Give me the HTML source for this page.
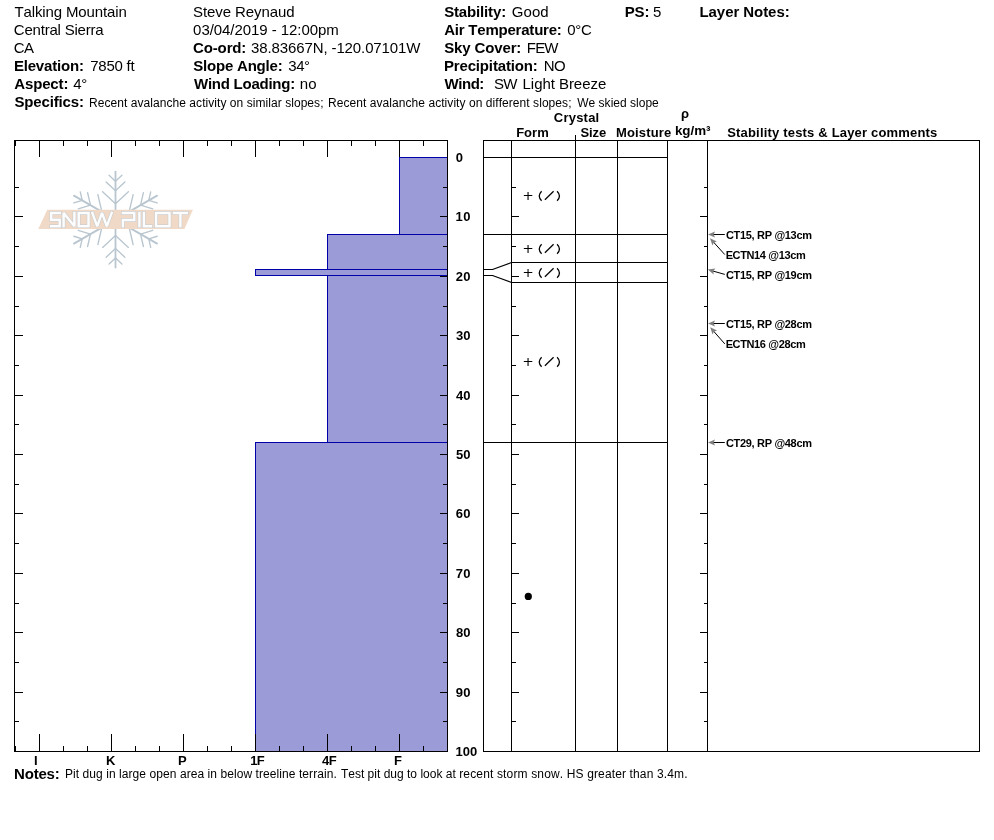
<!DOCTYPE html>
<html><head><meta charset="utf-8"><title>Snow Pit Profile</title>
<style>
html,body{margin:0;padding:0;background:#fff;}
body{width:994px;height:840px;overflow:hidden;position:relative;font-family:"Liberation Sans",sans-serif;color:#000;}
#w{position:absolute;left:0;top:0;width:994px;height:840px;will-change:transform;font-kerning:none;}
svg{position:absolute;left:0;top:0;}
.t{position:absolute;white-space:pre;line-height:1;font-size:15px;}
.b{font-weight:bold;}
text{font-family:"Liberation Sans",sans-serif;fill:#000;font-kerning:none;}
</style></head><body><div id="w">
<svg width="994" height="840" viewBox="0 0 994 840">
<g stroke="#b9c6cf" stroke-width="1.35" stroke-linecap="round" fill="none">
<path d="M115.50 219.60 L115.50 171.60" stroke-width="1.8"/>
<path d="M115.50 181.20 L121.94 175.20"/>
<path d="M115.50 181.20 L109.06 175.20"/>
<path d="M115.50 190.70 L124.86 181.97"/>
<path d="M115.50 190.70 L106.14 181.97"/>
<path d="M115.50 203.80 L128.37 191.80"/>
<path d="M115.50 203.80 L102.63 191.80"/>
<path d="M115.50 219.60 L73.93 195.60" stroke-width="1.8"/>
<path d="M82.24 200.40 L80.27 191.83"/>
<path d="M82.24 200.40 L73.83 202.97"/>
<path d="M90.47 205.15 L87.59 192.68"/>
<path d="M90.47 205.15 L78.23 208.89"/>
<path d="M101.82 211.70 L97.86 194.55"/>
<path d="M101.82 211.70 L84.99 216.85"/>
<path d="M115.50 219.60 L73.93 243.60" stroke-width="1.8"/>
<path d="M82.24 238.80 L73.83 236.23"/>
<path d="M82.24 238.80 L80.27 247.37"/>
<path d="M90.47 234.05 L78.23 230.31"/>
<path d="M90.47 234.05 L87.59 246.52"/>
<path d="M101.82 227.50 L84.99 222.35"/>
<path d="M101.82 227.50 L97.86 244.65"/>
<path d="M115.50 219.60 L115.50 267.60" stroke-width="1.8"/>
<path d="M115.50 258.00 L109.06 264.00"/>
<path d="M115.50 258.00 L121.94 264.00"/>
<path d="M115.50 248.50 L106.14 257.23"/>
<path d="M115.50 248.50 L124.86 257.23"/>
<path d="M115.50 235.40 L102.63 247.40"/>
<path d="M115.50 235.40 L128.37 247.40"/>
<path d="M115.50 219.60 L157.07 243.60" stroke-width="1.8"/>
<path d="M148.76 238.80 L150.73 247.37"/>
<path d="M148.76 238.80 L157.17 236.23"/>
<path d="M140.53 234.05 L143.41 246.52"/>
<path d="M140.53 234.05 L152.77 230.31"/>
<path d="M129.18 227.50 L133.14 244.65"/>
<path d="M129.18 227.50 L146.01 222.35"/>
<path d="M115.50 219.60 L157.07 195.60" stroke-width="1.8"/>
<path d="M148.76 200.40 L157.17 202.97"/>
<path d="M148.76 200.40 L150.73 191.83"/>
<path d="M140.53 205.15 L152.77 208.89"/>
<path d="M140.53 205.15 L143.41 192.68"/>
<path d="M129.18 211.70 L146.01 216.85"/>
<path d="M129.18 211.70 L133.14 194.55"/>
</g>
<path d="M47.3 209.8 H192.9 L184.4 228.9 H38.3 Z" fill="#f0d9c6"/>
<path d="M59.7 212.9 H51.2 V219.8 H59.7 V226.3 H51.2 M63.6 226.3 V212.9 L74.4 226.3 V212.9 M78.7 212.9 H88.5 V226.3 H78.7 Z M92.4 212.9 L97.2 226.3 L102 212.9 L106.8 226.3 L111.7 212.9 M122.9 212.9 H134.3 V220.0 H122.9 V226.3 M139.4 212.9 V226.3 M143.9 212.9 V226.3 H151 M156.1 212.9 H169.5 V226.3 H156.1 Z M174 212.9 H186.9 M180.4 212.9 V226.3" stroke="#c0cad2" stroke-width="3.5" fill="none" stroke-linecap="square" stroke-linejoin="miter" stroke-miterlimit="1.5"/>
<path d="M59.7 212.9 H51.2 V219.8 H59.7 V226.3 H51.2 M63.6 226.3 V212.9 L74.4 226.3 V212.9 M78.7 212.9 H88.5 V226.3 H78.7 Z M92.4 212.9 L97.2 226.3 L102 212.9 L106.8 226.3 L111.7 212.9 M122.9 212.9 H134.3 V220.0 H122.9 V226.3 M139.4 212.9 V226.3 M143.9 212.9 V226.3 H151 M156.1 212.9 H169.5 V226.3 H156.1 Z M174 212.9 H186.9 M180.4 212.9 V226.3" stroke="#fdfdfd" stroke-width="2.5" fill="none" stroke-linecap="square" stroke-linejoin="miter" stroke-miterlimit="1.5"/>
<g shape-rendering="crispEdges">
<rect x="399" y="157" width="48" height="77" fill="#9b9bd8" />
<rect x="327" y="234" width="120" height="208" fill="#9b9bd8" />
<rect x="255" y="442" width="192" height="309" fill="#9b9bd8" />
<rect x="399" y="157" width="48" height="1" fill="#0000a8" />
<rect x="399" y="157" width="1" height="78" fill="#0000a8" />
<rect x="327" y="234" width="120" height="1" fill="#0000a8" />
<rect x="327" y="234" width="1" height="209" fill="#0000a8" />
<rect x="255" y="442" width="192" height="1" fill="#0000a8" />
<rect x="255" y="442" width="1" height="309" fill="#0000a8" />
<rect x="255" y="269" width="192" height="7" fill="#9b9bd8" />
<rect x="255" y="269" width="192" height="1" fill="#0000a8" />
<rect x="255" y="275" width="192" height="1" fill="#0000a8" />
<rect x="255" y="269" width="1" height="7" fill="#0000a8" />
<rect x="14" y="140" width="434" height="1" fill="#000" />
<rect x="14" y="751" width="434" height="1" fill="#000" />
<rect x="14" y="140" width="1" height="612" fill="#000" />
<rect x="447" y="140" width="1" height="612" fill="#000" />
<rect x="15" y="141" width="1" height="5" fill="#000" />
<rect x="15" y="746" width="1" height="5" fill="#000" />
<rect x="39" y="141" width="1" height="16" fill="#000" />
<rect x="39" y="734" width="1" height="17" fill="#000" />
<rect x="63" y="141" width="1" height="5" fill="#000" />
<rect x="63" y="746" width="1" height="5" fill="#000" />
<rect x="87" y="141" width="1" height="5" fill="#000" />
<rect x="87" y="746" width="1" height="5" fill="#000" />
<rect x="111" y="141" width="1" height="16" fill="#000" />
<rect x="111" y="734" width="1" height="17" fill="#000" />
<rect x="135" y="141" width="1" height="5" fill="#000" />
<rect x="135" y="746" width="1" height="5" fill="#000" />
<rect x="159" y="141" width="1" height="5" fill="#000" />
<rect x="159" y="746" width="1" height="5" fill="#000" />
<rect x="183" y="141" width="1" height="16" fill="#000" />
<rect x="183" y="734" width="1" height="17" fill="#000" />
<rect x="207" y="141" width="1" height="5" fill="#000" />
<rect x="207" y="746" width="1" height="5" fill="#000" />
<rect x="231" y="141" width="1" height="5" fill="#000" />
<rect x="231" y="746" width="1" height="5" fill="#000" />
<rect x="255" y="141" width="1" height="16" fill="#000" />
<rect x="255" y="734" width="1" height="17" fill="#000" />
<rect x="279" y="141" width="1" height="5" fill="#000" />
<rect x="279" y="746" width="1" height="5" fill="#000" />
<rect x="303" y="141" width="1" height="5" fill="#000" />
<rect x="303" y="746" width="1" height="5" fill="#000" />
<rect x="327" y="141" width="1" height="16" fill="#000" />
<rect x="327" y="734" width="1" height="17" fill="#000" />
<rect x="351" y="141" width="1" height="5" fill="#000" />
<rect x="351" y="746" width="1" height="5" fill="#000" />
<rect x="375" y="141" width="1" height="5" fill="#000" />
<rect x="375" y="746" width="1" height="5" fill="#000" />
<rect x="399" y="141" width="1" height="16" fill="#000" />
<rect x="399" y="734" width="1" height="17" fill="#000" />
<rect x="423" y="141" width="1" height="5" fill="#000" />
<rect x="423" y="746" width="1" height="5" fill="#000" />
<rect x="15" y="187" width="4" height="1" fill="#000" />
<rect x="443" y="187" width="4" height="1" fill="#000" />
<rect x="15" y="216" width="8" height="1" fill="#000" />
<rect x="440" y="216" width="7" height="1" fill="#000" />
<rect x="15" y="246" width="4" height="1" fill="#000" />
<rect x="443" y="246" width="4" height="1" fill="#000" />
<rect x="15" y="276" width="8" height="1" fill="#000" />
<rect x="440" y="276" width="7" height="1" fill="#000" />
<rect x="15" y="306" width="4" height="1" fill="#000" />
<rect x="443" y="306" width="4" height="1" fill="#000" />
<rect x="15" y="335" width="8" height="1" fill="#000" />
<rect x="440" y="335" width="7" height="1" fill="#000" />
<rect x="15" y="365" width="4" height="1" fill="#000" />
<rect x="443" y="365" width="4" height="1" fill="#000" />
<rect x="15" y="395" width="8" height="1" fill="#000" />
<rect x="440" y="395" width="7" height="1" fill="#000" />
<rect x="15" y="424" width="4" height="1" fill="#000" />
<rect x="443" y="424" width="4" height="1" fill="#000" />
<rect x="15" y="454" width="8" height="1" fill="#000" />
<rect x="440" y="454" width="7" height="1" fill="#000" />
<rect x="15" y="484" width="4" height="1" fill="#000" />
<rect x="443" y="484" width="4" height="1" fill="#000" />
<rect x="15" y="513" width="8" height="1" fill="#000" />
<rect x="440" y="513" width="7" height="1" fill="#000" />
<rect x="15" y="543" width="4" height="1" fill="#000" />
<rect x="443" y="543" width="4" height="1" fill="#000" />
<rect x="15" y="573" width="8" height="1" fill="#000" />
<rect x="440" y="573" width="7" height="1" fill="#000" />
<rect x="15" y="603" width="4" height="1" fill="#000" />
<rect x="443" y="603" width="4" height="1" fill="#000" />
<rect x="15" y="632" width="8" height="1" fill="#000" />
<rect x="440" y="632" width="7" height="1" fill="#000" />
<rect x="15" y="662" width="4" height="1" fill="#000" />
<rect x="443" y="662" width="4" height="1" fill="#000" />
<rect x="15" y="692" width="8" height="1" fill="#000" />
<rect x="440" y="692" width="7" height="1" fill="#000" />
<rect x="15" y="721" width="4" height="1" fill="#000" />
<rect x="443" y="721" width="4" height="1" fill="#000" />
<rect x="483" y="140" width="497" height="1" fill="#000" />
<rect x="483" y="751" width="497" height="1" fill="#000" />
<rect x="483" y="140" width="1" height="612" fill="#000" />
<rect x="511" y="140" width="1" height="612" fill="#000" />
<rect x="575" y="140" width="1" height="612" fill="#000" />
<rect x="617" y="140" width="1" height="612" fill="#000" />
<rect x="667" y="140" width="1" height="612" fill="#000" />
<rect x="707" y="140" width="1" height="612" fill="#000" />
<rect x="979" y="140" width="1" height="612" fill="#000" />
<rect x="575" y="135" width="1" height="5" fill="#000" />
<rect x="483" y="157" width="184" height="1" fill="#000" />
<rect x="483" y="234" width="184" height="1" fill="#000" />
<rect x="511" y="262" width="156" height="1" fill="#000" />
<rect x="511" y="282" width="156" height="1" fill="#000" />
<rect x="483" y="442" width="184" height="1" fill="#000" />
<rect x="483" y="269" width="10" height="1" fill="#000" />
<rect x="483" y="275" width="10" height="1" fill="#000" />
<rect x="512" y="187" width="4" height="1" fill="#000" />
<rect x="704" y="187" width="3" height="1" fill="#000" />
<rect x="512" y="216" width="7" height="1" fill="#000" />
<rect x="700" y="216" width="7" height="1" fill="#000" />
<rect x="512" y="246" width="4" height="1" fill="#000" />
<rect x="704" y="246" width="3" height="1" fill="#000" />
<rect x="512" y="276" width="7" height="1" fill="#000" />
<rect x="700" y="276" width="7" height="1" fill="#000" />
<rect x="512" y="306" width="4" height="1" fill="#000" />
<rect x="704" y="306" width="3" height="1" fill="#000" />
<rect x="512" y="335" width="7" height="1" fill="#000" />
<rect x="700" y="335" width="7" height="1" fill="#000" />
<rect x="512" y="365" width="4" height="1" fill="#000" />
<rect x="704" y="365" width="3" height="1" fill="#000" />
<rect x="512" y="395" width="7" height="1" fill="#000" />
<rect x="700" y="395" width="7" height="1" fill="#000" />
<rect x="512" y="424" width="4" height="1" fill="#000" />
<rect x="704" y="424" width="3" height="1" fill="#000" />
<rect x="512" y="454" width="7" height="1" fill="#000" />
<rect x="700" y="454" width="7" height="1" fill="#000" />
<rect x="512" y="484" width="4" height="1" fill="#000" />
<rect x="704" y="484" width="3" height="1" fill="#000" />
<rect x="512" y="513" width="7" height="1" fill="#000" />
<rect x="700" y="513" width="7" height="1" fill="#000" />
<rect x="512" y="543" width="4" height="1" fill="#000" />
<rect x="704" y="543" width="3" height="1" fill="#000" />
<rect x="512" y="573" width="7" height="1" fill="#000" />
<rect x="700" y="573" width="7" height="1" fill="#000" />
<rect x="512" y="603" width="4" height="1" fill="#000" />
<rect x="704" y="603" width="3" height="1" fill="#000" />
<rect x="512" y="632" width="7" height="1" fill="#000" />
<rect x="700" y="632" width="7" height="1" fill="#000" />
<rect x="512" y="662" width="4" height="1" fill="#000" />
<rect x="704" y="662" width="3" height="1" fill="#000" />
<rect x="512" y="692" width="7" height="1" fill="#000" />
<rect x="700" y="692" width="7" height="1" fill="#000" />
<rect x="512" y="721" width="4" height="1" fill="#000" />
<rect x="704" y="721" width="3" height="1" fill="#000" />
</g>
<path d="M492.5 269.5 L511.5 262.5 M492.5 275.5 L511.5 282.5" stroke="#000" stroke-width="1.15" fill="none"/>
<g stroke="#000" stroke-width="1.25" fill="none" stroke-linecap="butt">
<path d="M523.85 195.5 H532.30" stroke-width="1"/><path d="M528.05 192.0 V199.9" stroke-width="1.1"/>
<path d="M541.6 191.2 Q536.9 196.0 541.6 200.8"/>
<path d="M544.9 199.7 L553.6 191.3"/>
<path d="M557.1 191.2 Q561.8 196.0 557.1 200.8"/>
</g>
<g stroke="#000" stroke-width="1.25" fill="none" stroke-linecap="butt">
<path d="M523.85 248.5 H532.30" stroke-width="1"/><path d="M528.05 245.0 V252.9" stroke-width="1.1"/>
<path d="M541.6 244.2 Q536.9 249.0 541.6 253.8"/>
<path d="M544.9 252.7 L553.6 244.3"/>
<path d="M557.1 244.2 Q561.8 249.0 557.1 253.8"/>
</g>
<g stroke="#000" stroke-width="1.25" fill="none" stroke-linecap="butt">
<path d="M523.85 272.5 H532.30" stroke-width="1"/><path d="M528.05 269.0 V276.9" stroke-width="1.1"/>
<path d="M541.6 268.2 Q536.9 273.0 541.6 277.8"/>
<path d="M544.9 276.7 L553.6 268.3"/>
<path d="M557.1 268.2 Q561.8 273.0 557.1 277.8"/>
</g>
<g stroke="#000" stroke-width="1.25" fill="none" stroke-linecap="butt">
<path d="M523.85 361.5 H532.30" stroke-width="1"/><path d="M528.05 358.0 V365.9" stroke-width="1.1"/>
<path d="M541.6 357.2 Q536.9 362.0 541.6 366.8"/>
<path d="M544.9 365.7 L553.6 357.3"/>
<path d="M557.1 357.2 Q561.8 362.0 557.1 366.8"/>
</g>
<circle cx="528.3" cy="596.4" r="3.6" fill="#000"/>
<path d="M724.8 234.5 L712.00 234.50" stroke="#000" stroke-width="1" fill="none"/>
<path d="M708.00 234.50 L715.00 237.50 L713.70 234.50 L715.00 231.50 Z" fill="#808080"/>
<path d="M724.8 254.6 L712.68 241.17" stroke="#000" stroke-width="1" fill="none"/>
<path d="M710.00 238.20 L712.46 245.41 L713.82 242.43 L716.92 241.39 Z" fill="#808080"/>
<path d="M724.8 274.4 L711.65 270.69" stroke="#000" stroke-width="1" fill="none"/>
<path d="M707.80 269.60 L713.72 274.39 L713.29 271.15 L715.35 268.61 Z" fill="#808080"/>
<path d="M724.8 323.5 L712.00 323.50" stroke="#000" stroke-width="1" fill="none"/>
<path d="M708.00 323.50 L715.00 326.50 L713.70 323.50 L715.00 320.50 Z" fill="#808080"/>
<path d="M724.8 343.9 L712.84 330.30" stroke="#000" stroke-width="1" fill="none"/>
<path d="M710.20 327.30 L712.57 334.54 L713.96 331.58 L717.08 330.57 Z" fill="#808080"/>
<path d="M724.8 442.5 L712.00 442.50" stroke="#000" stroke-width="1" fill="none"/>
<path d="M708.00 442.50 L715.00 445.50 L713.70 442.50 L715.00 439.50 Z" fill="#808080"/>
<text x="725.95" y="239" font-size="11" font-weight="bold" text-anchor="start" letter-spacing="-0.321" >CT15, RP @13cm</text>
<text x="725.66" y="259" font-size="11" font-weight="bold" text-anchor="start" letter-spacing="-0.371" >ECTN14 @13cm</text>
<text x="725.95" y="278.5" font-size="11" font-weight="bold" text-anchor="start" letter-spacing="-0.321" >CT15, RP @19cm</text>
<text x="725.95" y="328" font-size="11" font-weight="bold" text-anchor="start" letter-spacing="-0.321" >CT15, RP @28cm</text>
<text x="725.66" y="348" font-size="11" font-weight="bold" text-anchor="start" letter-spacing="-0.371" >ECTN16 @28cm</text>
<text x="725.95" y="446.5" font-size="11" font-weight="bold" text-anchor="start" letter-spacing="-0.321" >CT29, RP @48cm</text>
<text x="455.79" y="161.6" font-size="13" font-weight="bold" text-anchor="start" >0</text>
<text x="455.48" y="220.6" font-size="13" font-weight="bold" text-anchor="start" letter-spacing="0.492" >10</text>
<text x="455.85" y="280.6" font-size="13" font-weight="bold" text-anchor="start" letter-spacing="0.124" >20</text>
<text x="456.0" y="339.6" font-size="13" font-weight="bold" text-anchor="start" letter-spacing="-0.028" >30</text>
<text x="456.1" y="399.6" font-size="13" font-weight="bold" text-anchor="start" letter-spacing="-0.13" >40</text>
<text x="455.9" y="458.6" font-size="13" font-weight="bold" text-anchor="start" letter-spacing="0.073" >50</text>
<text x="455.82" y="517.6" font-size="13" font-weight="bold" text-anchor="start" letter-spacing="0.149" >60</text>
<text x="455.74" y="577.6" font-size="13" font-weight="bold" text-anchor="start" letter-spacing="0.232" >70</text>
<text x="455.89" y="636.6" font-size="13" font-weight="bold" text-anchor="start" letter-spacing="0.086" >80</text>
<text x="455.85" y="696.6" font-size="13" font-weight="bold" text-anchor="start" letter-spacing="0.124" >90</text>
<text x="455.48" y="755.6" font-size="13" font-weight="bold" text-anchor="start" letter-spacing="0.031" >100</text>
<text x="34" y="765" font-size="13" font-weight="bold" text-anchor="start" >I</text>
<text x="106" y="765" font-size="13" font-weight="bold" text-anchor="start" >K</text>
<text x="178" y="765" font-size="13" font-weight="bold" text-anchor="start" >P</text>
<text x="250.28" y="765" font-size="13" font-weight="bold" text-anchor="start" letter-spacing="-0.676" >1F</text>
<text x="322.1" y="765" font-size="13" font-weight="bold" text-anchor="start" letter-spacing="-0.498" >4F</text>
<text x="394" y="765" font-size="13" font-weight="bold" text-anchor="start" >F</text>
<text x="553.77" y="121.8" font-size="13" font-weight="bold" text-anchor="start" letter-spacing="0.229" >Crystal</text>
<text x="516.13" y="136.6" font-size="13" font-weight="bold" text-anchor="start" letter-spacing="0.059" >Form</text>
<text x="580.43" y="136.6" font-size="13" font-weight="bold" text-anchor="start" letter-spacing="-0.098" >Size</text>
<text x="615.93" y="136.7" font-size="13" font-weight="bold" text-anchor="start" letter-spacing="0.178" >Moisture</text>
<text x="681" y="118.2" font-size="13" font-weight="bold" text-anchor="start" >ρ</text>
<text x="674.96" y="134.5" font-size="13.4" font-weight="bold" text-anchor="start" letter-spacing="-0.054" >kg/m³</text>
<text x="727.23" y="137" font-size="13" font-weight="bold" text-anchor="start" letter-spacing="0.182" >Stability tests &amp; Layer comments</text>
</svg>
<div class="t" style="left:14.56px;top:4.30px;letter-spacing:-0.134px;">Talking Mountain</div>
<div class="t" style="left:13.84px;top:22.30px;letter-spacing:-0.213px;">Central Sierra</div>
<div class="t" style="left:13.84px;top:40.30px;letter-spacing:-0.746px;">CA</div>
<div class="t b" style="left:13.9px;top:58.30px;letter-spacing:-0.182px;">Elevation:</div>
<div class="t" style="left:90.13px;top:58.30px;letter-spacing:-0.215px;">7850 ft</div>
<div class="t b" style="left:14.23px;top:76.30px;letter-spacing:-0.133px;">Aspect:</div>
<div class="t" style="left:73.26px;top:76.30px;letter-spacing:-0.396px;">4°</div>
<div class="t b" style="left:14.47px;top:94.30px;letter-spacing:-0.154px;">Specifics:</div>
<div class="t" style="left:89.02px;top:96.84px;font-size:12px;letter-spacing:0.055px;">Recent avalanche activity on similar slopes;</div>
<div class="t" style="left:328.02px;top:96.84px;font-size:12px;letter-spacing:0.059px;">Recent avalanche activity on different slopes;</div>
<div class="t" style="left:577.25px;top:96.84px;font-size:12px;letter-spacing:0.009px;">We skied slope</div>
<div class="t" style="left:193.02px;top:4.30px;letter-spacing:-0.077px;">Steve Reynaud</div>
<div class="t" style="left:193.11px;top:22.30px;letter-spacing:-0.058px;">03/04/2019 - 12:00pm</div>
<div class="t b" style="left:193.08px;top:40.30px;letter-spacing:-0.148px;">Co-ord:</div>
<div class="t" style="left:251.03px;top:40.30px;letter-spacing:-0.113px;">38.83667N, -120.07101W</div>
<div class="t b" style="left:193.27px;top:58.30px;letter-spacing:-0.209px;">Slope Angle:</div>
<div class="t" style="left:288.23px;top:58.30px;letter-spacing:-0.405px;">34°</div>
<div class="t b" style="left:193.99px;top:76.30px;letter-spacing:-0.248px;">Wind Loading:</div>
<div class="t" style="left:299.8px;top:76.30px;letter-spacing:0.141px;">no</div>
<div class="t b" style="left:444.17px;top:4.30px;letter-spacing:-0.152px;">Stability:</div>
<div class="t" style="left:511.75px;top:4.30px;letter-spacing:0.076px;">Good</div>
<div class="t b" style="left:624.8px;top:4.30px;letter-spacing:-0.179px;">PS:</div>
<div class="t" style="left:653.0px;top:4.30px;">5</div>
<div class="t b" style="left:444.23px;top:22.30px;letter-spacing:-0.217px;">Air Temperature:</div>
<div class="t" style="left:567.21px;top:22.30px;letter-spacing:-0.308px;">0°C</div>
<div class="t b" style="left:444.17px;top:40.30px;letter-spacing:-0.133px;">Sky Cover:</div>
<div class="t" style="left:526.77px;top:40.30px;letter-spacing:-0.8px;">FEW</div>
<div class="t b" style="left:443.9px;top:58.30px;letter-spacing:-0.146px;">Precipitation:</div>
<div class="t" style="left:543.87px;top:58.30px;letter-spacing:-0.8px;">NO</div>
<div class="t b" style="left:444.59px;top:76.30px;letter-spacing:-0.472px;">Wind:</div>
<div class="t" style="left:493.92px;top:76.30px;letter-spacing:-0.73px;">SW</div>
<div class="t" style="left:522.57px;top:76.30px;letter-spacing:-0.048px;">Light Breeze</div>
<div class="t b" style="left:699.5px;top:4.30px;letter-spacing:-0.065px;">Layer Notes:</div>
<div class="t b" style="left:14.0px;top:765.80px;letter-spacing:-0.185px;">Notes:</div>
<div class="t" style="left:64.92px;top:768.34px;font-size:12px;letter-spacing:0.071px;">Pit dug in large open area in below treeline terrain.</div>
<div class="t" style="left:340.93px;top:768.34px;font-size:12px;letter-spacing:0.006px;">Test pit dug to look at</div>
<div class="t" style="left:459.2px;top:768.34px;font-size:12px;letter-spacing:0.154px;">recent storm snow.</div>
<div class="t" style="left:566.72px;top:768.34px;font-size:12px;letter-spacing:0.136px;">HS greater than 3.4m.</div>
</div></body></html>
